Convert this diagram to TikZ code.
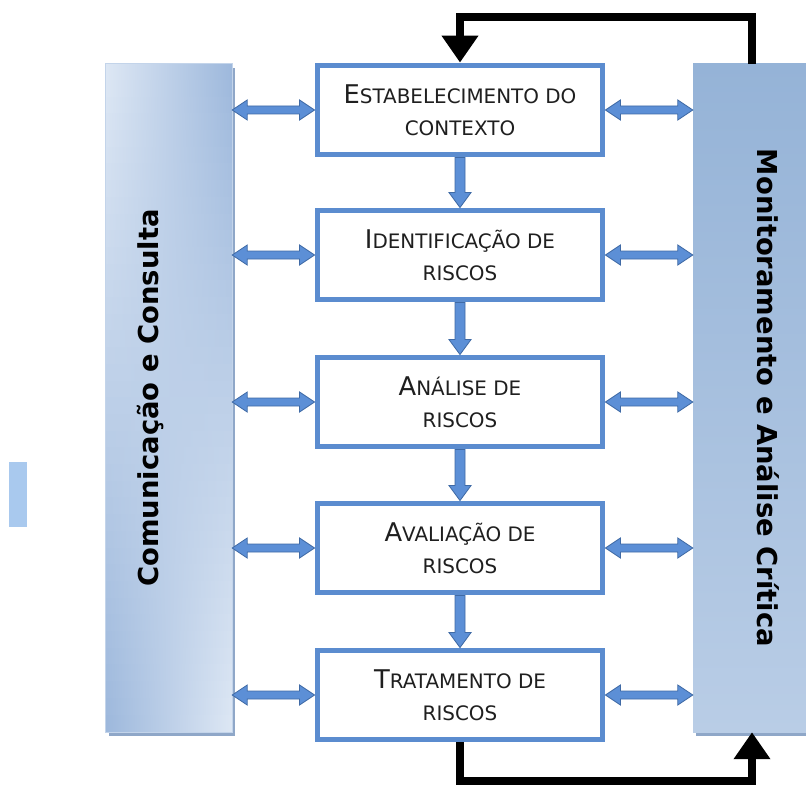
\documentclass[tikz,border=0pt]{standalone}
\usepackage{fontspec}
\setmainfont{DejaVu Sans}
\usetikzlibrary{arrows.meta,calc}

\definecolor{boxblue}{HTML}{5B8CCF}
\definecolor{arrowblue}{HTML}{5C8FD6}
\definecolor{arrowline}{HTML}{3F6AA5}
\definecolor{panellight}{HTML}{DDE7F4}
\definecolor{paneldark}{HTML}{9DB8DC}
\definecolor{paneltop}{HTML}{95B3D7}
\definecolor{panelbot}{HTML}{B9CDE6}
\definecolor{panelshadow}{HTML}{8FA7C8}
\definecolor{strayblue}{HTML}{A9C9EE}
\definecolor{textgray}{HTML}{1F1F1F}

% small caps by hand: big first letter, smaller capitals after it
\newcommand\capsc[2]{{\fontsize{22}{27}\selectfont #1}#2}

% block arrows between named points
\newcommand\vblock[2]{%
  \filldraw[blockarrow] ($(#1)+(-5,0)$) -- ($(#2)+(-5,-15)$) -- ($(#2)+(-11,-15)$)
    -- (#2) -- ($(#2)+(11,-15)$) -- ($(#2)+(5,-15)$) -- ($(#1)+(5,0)$) -- cycle;}
\newcommand\hblock[2]{%
  \filldraw[blockarrow] (#1) -- ($(#1)+(15,-10)$) -- ($(#1)+(15,-4)$) -- ($(#2)+(-15,-4)$)
    -- ($(#2)+(-15,-10)$) -- (#2) -- ($(#2)+(-15,10)$) -- ($(#2)+(-15,4)$)
    -- ($(#1)+(15,4)$) -- ($(#1)+(15,10)$) -- cycle;}

\tikzset{
  stepbox/.style={draw=boxblue, line width=5pt, fill=white, rectangle,
    minimum width=8.55cm, minimum height=2.67cm, align=center,
    text=textgray, font=\fontsize{17}{27}\selectfont},
  blockarrow/.style={fill=arrowblue, draw=arrowline, line width=0.7pt, line join=miter},
  feedback/.style={draw=black, line width=7.65pt, line join=miter,
    -{Triangle[length=23pt,width=30pt]}},
  paneltext/.style={font=\bfseries\fontsize{23.4}{28}\selectfont, text=black},
}

\begin{document}
\begin{tikzpicture}[x=0.03cm,y=-0.03cm]
    \useasboundingbox (0,0) rectangle (806,787);
    \clip (0,0) rectangle (806,787);
    %% stray mark
    \fill[strayblue] (9,462) rectangle (27,527);
    %% side panels
    \fill[panelshadow] (109,68) rectangle (235,736);
    \fill[panelshadow] (696,68) rectangle (846,736);
    \node[rectangle, minimum width=3.78cm, minimum height=20.04cm] (lp) at (169,398) {};
    \foreach \k in {0,...,39} {
      \pgfmathsetmacro\p{100-\k*100/39}
      \fill[left color=panellight!\p!paneldark, right color=paneldark!\p!panellight]
        ($(lp.north west)+(0,\k*16.7)$) rectangle ($(lp.north east)+(0,\k*16.7+17.4)$);
    }
    \draw[panellight!60!paneldark, line width=0.6pt] (lp.north west) rectangle (lp.south east);
    \node[rectangle, top color=paneltop, bottom color=panelbot,
      minimum width=4.5cm, minimum height=20.04cm] (rp) at (768,398) {};
    \node[paneltext, rotate=90] (lptext) at (151,398) {Comunicação e Consulta};
    \node[paneltext, rotate=-90] (rptext) at (rp.center) {Monitoramento e Análise Crítica};
    %% steps
    \node[stepbox] (b1) at (460,110) {\capsc{E}{STABELECIMENTO DO}\\CONTEXTO};
    \node[stepbox] (b2) at (460,255) {\capsc{I}{DENTIFICAÇÃO DE}\\RISCOS};
    \node[stepbox] (b3) at (460,402) {\capsc{A}{NÁLISE DE}\\RISCOS};
    \node[stepbox] (b4) at (460,548) {\capsc{A}{VALIAÇÃO DE}\\RISCOS};
    \node[stepbox] (b5) at (460,695) {\capsc{T}{RATAMENTO DE}\\RISCOS};
    %% flow between steps
    \foreach \i/\j in {1/2,2/3,3/4,4/5}
      \vblock{b\i.south}{b\j.north};
    %% links to both panels
    \foreach \i in {1,...,5} {
      \coordinate (l\i) at (lp.east |- b\i.west);
      \coordinate (r\i) at (rp.west |- b\i.east);
      \hblock{l\i}{b\i.west}
      \hblock{b\i.east}{r\i}
    }
    %% feedback loop
    \coordinate (fbtop) at (752,17);
    \coordinate (fbbot) at (752,781);
    \draw[feedback] (fbtop |- rp.north) -- (fbtop) -- (fbtop -| b1.north) -- (b1.north);
    \draw[feedback] (b5.south) -- (b5.south |- fbbot) -- (fbbot) -- (fbbot |- rp.south);
\end{tikzpicture}
\end{document}
